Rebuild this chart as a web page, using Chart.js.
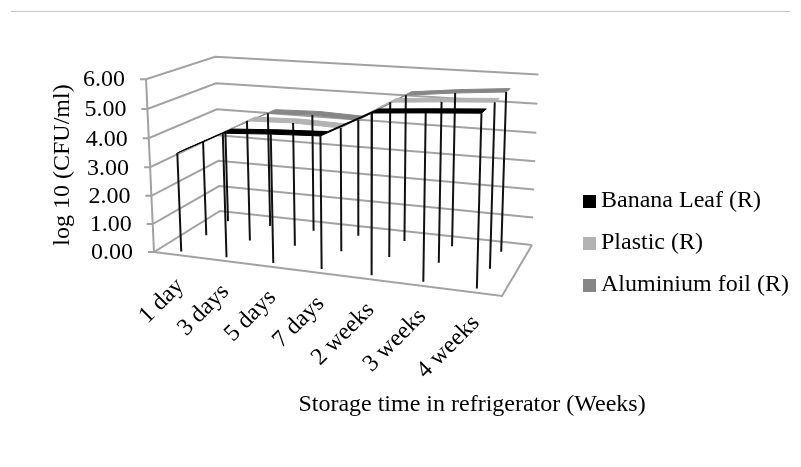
<!DOCTYPE html>
<html>
<head>
<meta charset="utf-8">
<title>Storage time chart</title>
<script src="https://cdn.jsdelivr.net/npm/chart.js@4/dist/chart.umd.min.js"></script>
<style>
    body {margin: 0; background: #fff;}
    #wrap {position: relative; width: 801px; height: 467px; overflow: hidden;}
    #rule {position: absolute; left: 11px; right: 11px; top: 11px; border-top: 1px solid #c4c4c4;}
    canvas {position: absolute; left: 0; top: 0; filter: blur(0.4px);}
</style>
</head>
<body>
<div id="wrap">
    <div id="rule"></div>
    <canvas id="chart" width="801" height="467"></canvas>
</div>
<script>
// values
const categories = ['1 day', '3 days', '5 days', '7 days', '2 weeks', '3 weeks', '4 weeks'];
const bananaLeaf = [3.48, 4.29, 4.39, 4.46, 5.32, 5.44, 5.55];
const plastic = [3.44, 4.32, 4.37, 4.32, 5.31, 5.43, 5.53];
const aluminiumFoil = [3.44, 4.24, 4.29, 4.23, 5.22, 5.4, 5.54];
const yTicks = [0, 1, 2, 3, 4, 5, 6];
const yMax = 6;

const seriesNames = ['Banana Leaf (R)', 'Plastic (R)', 'Aluminium foil (R)'];
const seriesColors = ['#000000', '#b3b3b3', '#868686'];
const seriesDepth = [0.07, 0.44, 0.79];
const ribbonWidth = 0.13;

const xTitle = 'Storage time in refrigerator (Weeks)';
const yTitle = 'log 10 (CFU/ml)';
const fontName = '"Liberation Serif", "Times New Roman", serif';

// floor of the 3d box: front left, front right, back right, back left
const floorCorners = [[154, 252], [502, 296], [532, 245], [220, 211]];
// verticals of the box all run towards this point far below the picture
const vanishing = [361, 4737];
const riseWeight = -0.0371;

function makeFloor(q) {
    const [x0, y0] = q[0], [x1, y1] = q[1], [x2, y2] = q[2], [x3, y3] = q[3];
    const dx1 = x1 - x2, dx2 = x3 - x2, sx = x0 - x1 + x2 - x3;
    const dy1 = y1 - y2, dy2 = y3 - y2, sy = y0 - y1 + y2 - y3;
    const den = dx1 * dy2 - dx2 * dy1;
    const g = (sx * dy2 - dx2 * sy) / den;
    const h = (dx1 * sy - sx * dy1) / den;
    return (u, v) => {
        const w = g * u + h * v + 1;
        return {
            w,
            x: ((x1 - x0 + g * x1) * u + (x3 - x0 + h * x3) * v + x0) / w,
            y: ((y1 - y0 + g * y1) * u + (y3 - y0 + h * y3) * v + y0) / w
        };
    };
}
const floorAt = makeFloor(floorCorners);

// u along the categories, v into the depth, val on the y axis
function project(u, v, val) {
    const f = floorAt(u, v);
    const k = f.w / (f.w + riseWeight * val / yMax);
    return {
        x: vanishing[0] + (f.x - vanishing[0]) * k,
        y: vanishing[1] + (f.y - vanishing[1]) * k
    };
}
const catU = i => (i + 0.5) / categories.length;
const gap = {x: null, y: null};

function gridPoints() {
    const pts = [];
    yTicks.forEach(t => {
        const p = project(0, 0, t);
        pts.push({x: p.x - 6, y: p.y}, p, project(0, 1, t), project(1, 1, t), gap);
    });
    pts.push(project(0, 0, 0), project(0, 0, yMax), gap);
    pts.push(project(0, 0, 0), project(1, 0, 0), project(1, 1, 0));
    return pts;
}

function ribbonPoints(values, s) {
    const front = values.map((v, i) => project(catU(i), seriesDepth[s], v));
    const back = values.map((v, i) => project(catU(i), seriesDepth[s] + ribbonWidth, v)).reverse();
    return front.concat(back, [front[0]]);
}

function dropPoints(values, s) {
    const pts = [];
    values.forEach((v, i) => {
        pts.push(project(catU(i), seriesDepth[s], v), project(catU(i), seriesDepth[s], 0), gap);
    });
    return pts;
}

function lineSet(data, color, width, order) {
    return {data, showLine: true, pointRadius: 0, borderColor: color, borderWidth: width, order, spanGaps: false};
}
function ribbonSet(values, s, order) {
    const set = lineSet(ribbonPoints(values, s), seriesColors[s], 1, order);
    set.label = seriesNames[s];
    set.backgroundColor = seriesColors[s];
    set.fill = 'shape';
    return set;
}

const textPlugin = {
    id: 'textPlugin',
    afterDatasetsDraw(chart) {
        const ctx = chart.ctx, sx = chart.scales.x, sy = chart.scales.y;
        ctx.save();
        ctx.fillStyle = '#000';
        ctx.font = '24px ' + fontName;

        ctx.textAlign = 'right';
        ctx.textBaseline = 'middle';
        yTicks.forEach(t => {
            const p = project(0, 0, t);
            ctx.fillText(t.toFixed(2), sx.getPixelForValue(p.x - 21), sy.getPixelForValue(p.y + 1));
        });

        categories.forEach((c, i) => {
            const p = project(catU(i), seriesDepth[0], 0);
            ctx.save();
            ctx.translate(sx.getPixelForValue(p.x - 1), sy.getPixelForValue(p.y + 31));
            ctx.rotate(-Math.PI / 4);
            ctx.fillText(c, 0, 0);
            ctx.restore();
        });

        ctx.textAlign = 'center';
        ctx.fillText(xTitle, 472, 405);
        ctx.save();
        ctx.translate(63, 165);
        ctx.rotate(-Math.PI / 2);
        ctx.fillText(yTitle, 0, 0);
        ctx.restore();

        // legend
        ctx.textAlign = 'left';
        seriesNames.forEach((name, i) => {
            const y = [201, 243, 285][i];
            ctx.fillStyle = seriesColors[i];
            ctx.fillRect(583, y - 6, 13, 13);
            ctx.fillStyle = '#000';
            ctx.fillText(name, 601, y);
        });
        ctx.restore();
    }
};

document.addEventListener('DOMContentLoaded', () => {
    new Chart(document.getElementById('chart').getContext('2d'), {
        type: 'scatter',
        data: {
            datasets: [
                lineSet(gridPoints(), '#a2a2a2', 2, 10),
                ribbonSet(aluminiumFoil, 2, 9),
                ribbonSet(plastic, 1, 8),
                lineSet(dropPoints(aluminiumFoil, 2), '#111', 2, 7),
                lineSet(dropPoints(plastic, 1), '#111', 2, 6),
                ribbonSet(bananaLeaf, 0, 5),
                lineSet(dropPoints(bananaLeaf, 0), '#111', 2, 4)
            ]
        },
        options: {
            responsive: false,
            animation: false,
            layout: {padding: 0},
            scales: {
                x: {type: 'linear', display: false, min: 0, max: 801},
                y: {type: 'linear', display: false, min: 0, max: 467, reverse: true}
            },
            plugins: {legend: {display: false}, tooltip: {enabled: false}}
        },
        plugins: [textPlugin]
    });
});
</script>
</body>
</html>
